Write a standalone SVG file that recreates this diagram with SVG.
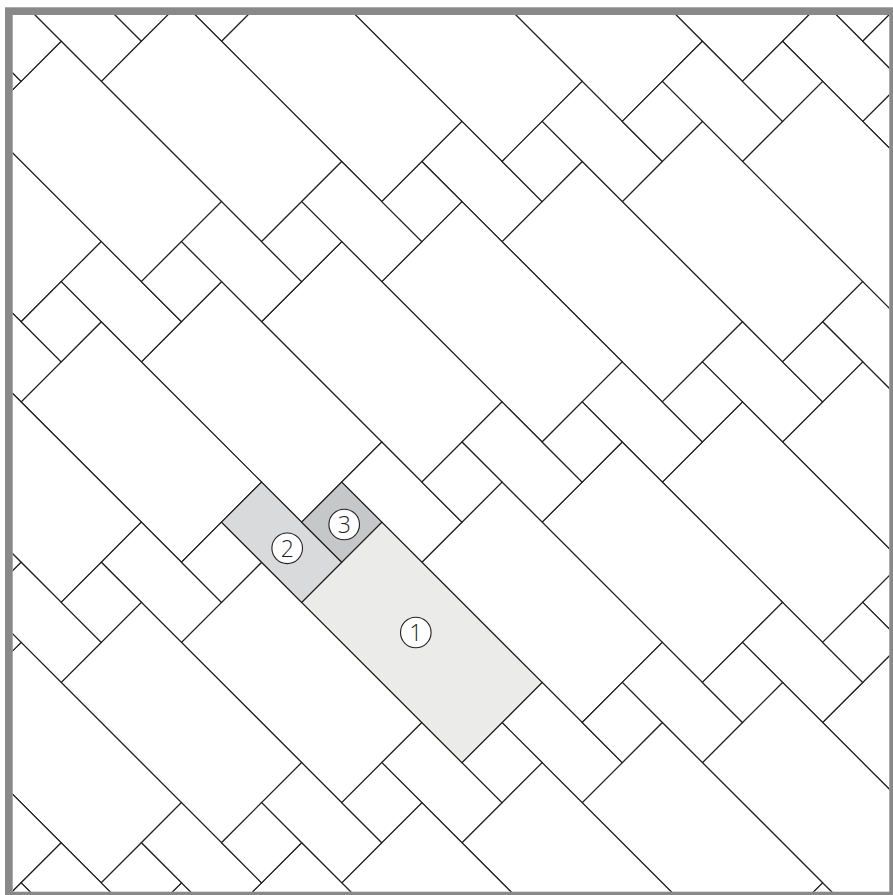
<svg xmlns="http://www.w3.org/2000/svg" xmlns:xlink="http://www.w3.org/1999/xlink" width="893" height="895" viewBox="0 0 893 895">
  <style>
    .hl { stroke: #231f20; stroke-width: 1.2; vector-effect: non-scaling-stroke; }
    .a { fill: #ebecea; }
    .b { fill: #d9dadb; }
    .c { fill: #c6c7c8; }
    .lbl circle { fill: #ffffff; stroke: #231f20; stroke-width: 1.1; }
    .lbl text { font-family: "Open Sans", "Liberation Sans", sans-serif; font-weight: 300; font-size: 23px; fill: #231f20; text-anchor: middle; }
  </style>
  <defs>
    <clipPath id="inner">
      <rect x="12.7" y="15" width="876.6" height="876.7"/>
    </clipPath>
    <g id="cell" fill="#ffffff" stroke="#231f20" stroke-width="1.2">
      <rect x="11" y="1" width="4" height="2" vector-effect="non-scaling-stroke"/>
      <rect x="9" y="2" width="2" height="1" vector-effect="non-scaling-stroke"/>
      <rect x="10" y="1" width="1" height="1" vector-effect="non-scaling-stroke"/>
    </g>
  </defs>
  <rect x="0" y="0" width="893" height="895" fill="#ffffff"/>
  <g clip-path="url(#inner)">
    <g transform="matrix(40.075 40.075 -40.075 40.075 -18.95 41.25)">
      <g id="tiles">
        <use xlink:href="#cell" x="-4" y="-14"/>
        <use xlink:href="#cell" x="-5" y="-12"/>
        <use xlink:href="#cell" x="-6" y="-10"/>
        <use xlink:href="#cell" x="-7" y="-8"/>
        <use xlink:href="#cell" x="-8" y="-6"/>
        <use xlink:href="#cell" x="-9" y="-4"/>
        <use xlink:href="#cell" x="-10" y="-2"/>
        <use xlink:href="#cell" x="-11" y="0"/>
        <use xlink:href="#cell" x="1" y="-13"/>
        <use xlink:href="#cell" x="0" y="-11"/>
        <use xlink:href="#cell" x="-1" y="-9"/>
        <use xlink:href="#cell" x="-2" y="-7"/>
        <use xlink:href="#cell" x="-3" y="-5"/>
        <use xlink:href="#cell" x="-4" y="-3"/>
        <use xlink:href="#cell" x="-5" y="-1"/>
        <use xlink:href="#cell" x="-6" y="1"/>
        <use xlink:href="#cell" x="-7" y="3"/>
        <use xlink:href="#cell" x="-8" y="5"/>
        <use xlink:href="#cell" x="5" y="-10"/>
        <use xlink:href="#cell" x="4" y="-8"/>
        <use xlink:href="#cell" x="3" y="-6"/>
        <use xlink:href="#cell" x="2" y="-4"/>
        <use xlink:href="#cell" x="1" y="-2"/>
        <use xlink:href="#cell" x="-1" y="2"/>
        <use xlink:href="#cell" x="-2" y="4"/>
        <use xlink:href="#cell" x="-3" y="6"/>
        <use xlink:href="#cell" x="-4" y="8"/>
        <use xlink:href="#cell" x="9" y="-7"/>
        <use xlink:href="#cell" x="8" y="-5"/>
        <use xlink:href="#cell" x="7" y="-3"/>
        <use xlink:href="#cell" x="6" y="-1"/>
        <use xlink:href="#cell" x="5" y="1"/>
        <use xlink:href="#cell" x="4" y="3"/>
        <use xlink:href="#cell" x="3" y="5"/>
        <use xlink:href="#cell" x="2" y="7"/>
        <use xlink:href="#cell" x="1" y="9"/>
        <use xlink:href="#cell" x="0" y="11"/>
        <use xlink:href="#cell" x="12" y="-2"/>
        <use xlink:href="#cell" x="11" y="0"/>
      </g>
      <g id="tile1"><rect class="hl a" x="11" y="1" width="4" height="2"/></g>
      <g id="tile2"><rect class="hl b" x="9" y="2" width="2" height="1"/></g>
      <g id="tile3"><rect class="hl c" x="10" y="1" width="1" height="1"/></g>
    </g>
  </g>
  <rect x="8.85" y="11.15" width="884.3" height="884.4" fill="none" stroke="#898989" stroke-width="7.7"/>
  <g class="lbl">
    <g id="label1"><circle cx="415.8" cy="632.5" r="15.3"/><text x="415.8" y="640.7">1</text></g>
    <g id="label2"><circle cx="287.2" cy="548.3" r="15.3"/><text x="287.2" y="556.5">2</text></g>
    <g id="label3"><circle cx="344.2" cy="524.5" r="15.3"/><text x="344.2" y="532.7">3</text></g>
  </g>
</svg>
